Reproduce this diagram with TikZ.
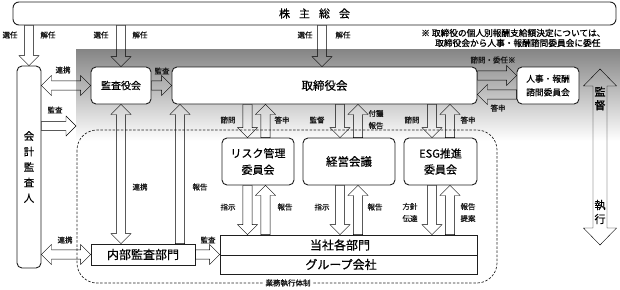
\documentclass[tikz,border=0pt]{standalone}
\usepackage{fontspec}
\setmainfont{Noto Sans CJK JP}[FakeBold=0.5]
\newfontfamily\lblfont{Noto Sans CJK JP}[FakeBold=1.2]
\usetikzlibrary{calc}
\def\bw{4.6pt}\def\bh{10pt}\def\bl{10pt}
\tikzset{
 ln/.style={draw=black!88, line width=0.9pt},
 box/.style={ln, fill=white, rounded corners=5pt, inner sep=0pt, align=center},
 sq/.style={ln, fill=white, inner sep=0pt, align=center},
 lbl/.style={font=\lblfont\fontsize{7.5}{11}\selectfont, inner sep=0pt, align=center, text=black!90},
 arr/.style={draw=black!88, line width=0.8pt, fill=white, line join=miter},
 blk/.style={arr, to path={
  ($(\tikztostart)!\bw!90:(\tikztotarget)$)
  -- ($(\tikztotarget)!\bl!(\tikztostart)!\bw!-90:(\tikztostart)$)
  -- ($(\tikztotarget)!\bl!(\tikztostart)!\bh!-90:(\tikztostart)$)
  -- (\tikztotarget)
  -- ($(\tikztotarget)!\bl!(\tikztostart)!\bh!90:(\tikztostart)$)
  -- ($(\tikztotarget)!\bl!(\tikztostart)!\bw!90:(\tikztostart)$)
  -- ($(\tikztostart)!\bw!-90:(\tikztotarget)$)
  -- cycle}},
 dblk/.style={arr, to path={
  ($(\tikztostart)!\bl!(\tikztotarget)!\bw!90:(\tikztotarget)$)
  -- ($(\tikztotarget)!\bl!(\tikztostart)!\bw!-90:(\tikztostart)$)
  -- ($(\tikztotarget)!\bl!(\tikztostart)!\bh!-90:(\tikztostart)$)
  -- (\tikztotarget)
  -- ($(\tikztotarget)!\bl!(\tikztostart)!\bh!90:(\tikztostart)$)
  -- ($(\tikztotarget)!\bl!(\tikztostart)!\bw!90:(\tikztostart)$)
  -- ($(\tikztostart)!\bl!(\tikztotarget)!\bw!-90:(\tikztotarget)$)
  -- ($(\tikztostart)!\bl!(\tikztotarget)!\bh!-90:(\tikztotarget)$)
  -- (\tikztostart)
  -- ($(\tikztostart)!\bl!(\tikztotarget)!\bh!90:(\tikztotarget)$)
  -- cycle}},
 bigsize/.code={\def\bw{7pt}\def\bh{16.5pt}\def\bl{17pt}},
}
\begin{document}
\begin{tikzpicture}[x=1pt,y=-1pt]
\useasboundingbox (0,0) rectangle (620,289);
% gray gradient background
\shade[top color=black!48, bottom color=white] (76,49) rectangle (620,141);
% execution framework (dashed)
\draw[black!85, line width=0.7pt, dash pattern=on 2.5pt off 1.6pt, rounded corners=20pt] (77,130) rectangle (497,283);

% boxes
\node[box, rounded corners=6pt, minimum width=603pt, minimum height=23pt, font=\fontsize{11}{13}\selectfont] (sh) at (314.5,13.5) {株\hspace{9pt}主\hspace{9pt}総\hspace{9pt}会};
\node[box, minimum width=24pt, minimum height=202pt, font=\fontsize{10.5}{15.5}\selectfont] (aud) at (29,167) {会\\計\\監\\査\\人};
\node[box, minimum width=60pt, minimum height=37pt, font=\fontsize{10}{12}\selectfont] (kansa) at (121,85.5) {監査役会};
\node[box, minimum width=305pt, minimum height=37pt, font=\fontsize{11.5}{13}\selectfont] (tori) at (324.5,85.5) {取締役会};
\node[box, minimum width=62pt, minimum height=37pt, font=\fontsize{8.7}{13.5}\selectfont] (jinji) at (548,85.5) {人事・報酬\\諮問委員会};
\node[box, minimum width=72pt, minimum height=47pt, font=\fontsize{11}{16.5}\selectfont] (risk) at (258,161.5) {リスク管理\\委員会};
\node[box, minimum width=92pt, minimum height=47pt, font=\fontsize{11.5}{14}\selectfont] (keiei) at (349,161.5) {経営会議};
\node[box, minimum width=73pt, minimum height=47pt, font=\fontsize{11}{16}\selectfont] (esg) at (440.5,161.5) {ESG推進\\委員会};
\node[sq, minimum width=104pt, minimum height=21pt, font=\fontsize{12}{14}\selectfont] (naibu) at (143,254.5) {内部監査部門};
\node[sq, minimum width=257pt, minimum height=20pt] (toushya) at (348.5,245) {};
\node[sq, minimum width=257pt, minimum height=19pt] (group) at (348.5,264.5) {};
\node[font=\fontsize{12}{14}\selectfont, inner sep=0pt] (toushyaT) at (340,245) {当社各部門};
\node[font=\fontsize{12}{14}\selectfont, inner sep=0pt] (groupT) at (341,264.5) {グループ会社};

\node[lbl, fill=white, inner xsep=2pt, inner ysep=1pt] (gyomu) at (288,283) {業務執行体制};

% note
\node[anchor=west, inner sep=0pt, font=\lblfont\fontsize{8.7}{10}\selectfont] (note1) at (421,33) {※ 取締役の個人別報酬支給額決定については、};
\node[anchor=west, inner sep=0pt, font=\lblfont\fontsize{8.7}{10}\selectfont] (note2) at (435,43) {取締役会から人事・報酬諮問委員会に委任};

% helper coordinates
\coordinate (t0) at ($(tori.north)+(-2.5,0)$);
\coordinate (rA) at ($(risk.north)+(-10.5,0)$);
\coordinate (rB) at ($(risk.north)+(7.5,0)$);
\coordinate (kA) at ($(keiei.north)+(-9,0)$);
\coordinate (kB) at ($(keiei.north)+(9,0)$);
\coordinate (eA) at ($(esg.north)+(-8.5,0)$);
\coordinate (eB) at ($(esg.north)+(9.5,0)$);
\coordinate (nR) at ($(naibu.north)+(37,0)$);
\coordinate (j1) at ($(jinji.west)+(0,-10)$);
\coordinate (j2) at ($(jinji.west)+(0,9)$);
\coordinate (gedge) at (76,126);
\coordinate (bt) at (600,69);
\coordinate (bb) at (600,245);

% arrows from shareholders
\draw (sh.south -| aud.north) to[blk] (aud.north);
\draw (sh.south -| kansa.north) to[blk] (kansa.north);
\draw (sh.south -| t0) to[blk] (t0);

% auditor links
\draw (kansa.west -| aud.east) to[dblk] (kansa.west);
\draw (gedge -| aud.east) to[blk] (gedge);
\draw (naibu.west -| aud.east) to[dblk] (naibu.west);

% audit board
\draw (kansa.east) to[blk] (kansa.east -| tori.west);
\draw (kansa.south) to[dblk] (naibu.north -| kansa.south);
\draw (nR) to[blk] (nR |- tori.south);
\draw (naibu.east) to[blk] (naibu.east -| toushya.west);

% board <-> committees
\draw (rA |- tori.south) to[blk] (rA);
\draw (rB) to[blk] (rB |- tori.south);
\draw (kA |- tori.south) to[blk] (kA);
\draw (kB) to[blk] (kB |- tori.south);
\draw (eA |- tori.south) to[blk] (eA);
\draw (eB) to[blk] (eB |- tori.south);
\draw (j1 -| tori.east) to[blk] (j1);
\draw (j2) to[blk] (j2 -| tori.east);

% committees <-> departments
\draw (rA |- risk.south) to[blk] (rA |- toushya.north);
\draw (rB |- toushya.north) to[blk] (rB |- risk.south);
\draw (kA |- keiei.south) to[blk] (kA |- toushya.north);
\draw (kB |- toushya.north) to[blk] (kB |- keiei.south);
\draw (eA |- esg.south) to[blk] (eA |- toushya.north);
\draw (eB |- toushya.north) to[blk] (eB |- esg.south);

% supervision / execution
\draw[bigsize] (bt) to[dblk] (bb);
\node[inner sep=0pt, align=center, font=\fontsize{11}{13.5}\selectfont] (kantoku) at (600,98.5) {監\\督};
\node[inner sep=0pt, align=center, font=\fontsize{11}{14}\selectfont] (shikkou) at (600,212) {執\\行};

% labels
\node[lbl] at (10,35) {選任};
\node[lbl] at (48,35) {解任};
\node[lbl] at (101,35) {選任};
\node[lbl] at (140,35) {解任};
\node[lbl] at (305,35) {選任};
\node[lbl] at (343,35) {解任};
\node[lbl] at (63,70) {連携};
\node[lbl] at (162,71) {監査};
\node[lbl] at (55,110) {監査};
\node[lbl] at (228,120) {諮問};
\node[lbl] at (282,120) {答申};
\node[lbl] at (317,120) {監督};
\node[lbl, font=\lblfont\fontsize{7.5}{12}\selectfont] at (376,119.5) {付議\\報告};
\node[lbl] at (412,120) {諮問};
\node[lbl] at (468,120) {答申};
\node[lbl] at (493,60) {諮問・委任※};
\node[lbl] at (498,108) {答申};
\node[lbl] at (140,187) {連携};
\node[lbl] at (200,187) {報告};
\node[lbl] at (228,207) {指示};
\node[lbl] at (285,207) {報告};
\node[lbl] at (322,207) {指示};
\node[lbl] at (375,207) {報告};
\node[lbl, font=\lblfont\fontsize{7.5}{12}\selectfont] at (410,212.5) {方針\\伝達};
\node[lbl, font=\lblfont\fontsize{7.5}{12}\selectfont] at (468,212.5) {報告\\提案};
\node[lbl] at (65,240) {連携};
\node[lbl] at (208,240) {監査};
\end{tikzpicture}
\end{document}
